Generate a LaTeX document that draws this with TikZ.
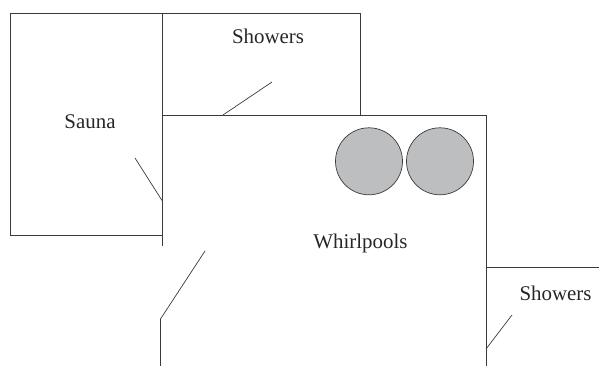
\documentclass[tikz,border=0pt]{standalone}
\usepackage{fontspec}
\setmainfont{Liberation Serif}
\usetikzlibrary{calc,positioning}
\definecolor{wallcol}{HTML}{3A3A3A}
\definecolor{poolcol}{HTML}{BCBEC0}
\tikzset{
    wall/.style={draw=wallcol,line width=.85pt},
    door/.style={draw=wallcol,line width=.7pt},
    pool/.style={circle,draw=wallcol,line width=.7pt,fill=poolcol,minimum size=67pt,inner sep=0pt},
    room/.style={text=black!85,font=\fontsize{20.9}{24}\selectfont,inner sep=0pt,anchor=base}
}
\begin{document}
\begin{tikzpicture}[x=1pt,y=-1pt]
                \useasboundingbox (0,0) rectangle (599,366);
                \coordinate (a) at (10.5,13);
                \coordinate (b) at (10.5,235.5);
                \coordinate (c) at (162,235.5);
                \coordinate (d) at (162,13);
                \coordinate (e) at (360,13);
                \coordinate (f) at (360,115);
                \coordinate (g) at (162,115);
                \coordinate (h) at (486,115);
                \coordinate (i) at (486,366);
                \coordinate (j) at (486,267);
                \coordinate (k) at (599,267);
                \coordinate (wallend) at (162,245.5);
                \coordinate (low) at (160.5,319);
                \coordinate (lowend) at (160.5,366);

                \draw[wall] (d) -- (a) -- (b) -- (c);
                \draw[wall] (wallend) -- (d) -- (e) -- (f);
                \draw[wall] (g) -- (h) -- (i);
                \draw[wall] (j) -- (k);
                \draw[wall] (low) -- (lowend);

                % doors
                \draw[door] (223,115) -- (272,82);
                \draw[door] (162,200.5) -- (135,158);
                \draw[door] (low) -- (205,251);
                \draw[door] (486,349) -- (512,315);

                \node[pool] at (369,161.3) (pool1) {};
                \node[pool] at (440,161.3) (pool2) {};

                \node[room] at (90,129) (sauna) {Sauna};
                \node[room] at (268,43.3) (showers1) {Showers};
                \node[room] at (360.5,248) (whirl) {Whirlpools};
                \node[room] at (555.5,300.7) (showers2) {Showers};
            \end{tikzpicture}
\end{document}
